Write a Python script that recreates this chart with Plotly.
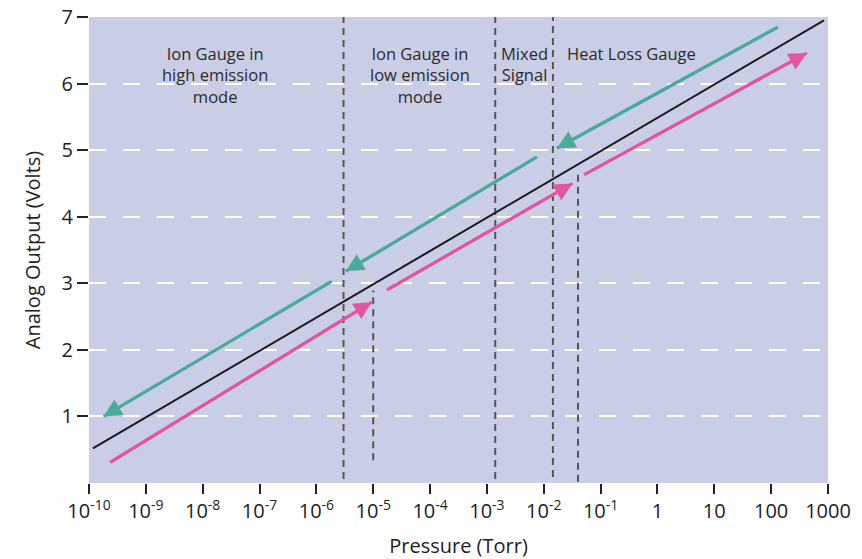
import plotly.graph_objects as go
import numpy as np

# ---- data ----
x_tick_vals = [1e-10, 1e-9, 1e-8, 1e-7, 1e-6, 1e-5, 1e-4, 1e-3, 1e-2, 1e-1, 1, 10, 100, 1000]
x_tick_text = ["10<sup>-10</sup>", "10<sup>-9</sup>", "10<sup>-8</sup>", "10<sup>-7</sup>",
               "10<sup>-6</sup>", "10<sup>-5</sup>", "10<sup>-4</sup>", "10<sup>-3</sup>",
               "10<sup>-2</sup>", "10<sup>-1</sup>", "1", "10", "100", "1000"]
y_tick_vals = [1, 2, 3, 4, 5, 6, 7]

# reference (black) line
ref_x = [1.17e-10, 850]
ref_y = [0.52, 6.95]

# decreasing-pressure (teal) segments: start -> arrow tip
teal_x = [[132, 0.017], [0.0076, 3.3e-6], [1.86e-6, 1.8e-10]]
teal_y = [[6.85, 5.03], [4.90, 3.18], [3.03, 1.00]]

# increasing-pressure (pink) segments: start -> arrow tip
pink_x = [[2.35e-10, 9.5e-6], [1.74e-5, 0.032], [0.051, 427]]
pink_y = [[0.31, 2.72], [2.90, 4.50], [4.63, 6.46]]

# region boundaries (vertical dashed lines)
vline_x = [3.0e-6, 1.0e-5, 1.4e-3, 0.0145, 0.040]
vline_y0 = [0.06, 0.34, 0.06, 0.09, 0.02]
vline_y1 = [7.0, 2.89, 7.0, 7.0, 4.69]

region_labels = ["Ion Gauge in<br>high emission<br>mode", "Ion Gauge in<br>low emission<br>mode",
                 "Mixed<br>Signal", "Heat Loss Gauge"]
region_label_x = [1.66e-8, 6.6e-5, 4.5e-3, 0.355]

TEAL = "#4aab9b"
PINK = "#e0579f"
BG = "#c9cee6"
FONT = "Open Sans"

fig = go.Figure()

for vx, y0, y1 in zip(vline_x, vline_y0, vline_y1):
    fig.add_trace(go.Scatter(x=[vx, vx], y=[y0, y1], mode="lines",
                             line=dict(color="#555555", width=2, dash="7px,5px"),
                             hoverinfo="skip", showlegend=False))

fig.add_trace(go.Scatter(x=ref_x, y=ref_y, mode="lines",
                         line=dict(color="#1a1a1a", width=2), showlegend=False))

for xs, ys in zip(teal_x, teal_y):
    fig.add_trace(go.Scatter(x=xs, y=ys, mode="lines",
                             line=dict(color=TEAL, width=3), showlegend=False))
for xs, ys in zip(pink_x, pink_y):
    fig.add_trace(go.Scatter(x=xs, y=ys, mode="lines",
                             line=dict(color=PINK, width=3), showlegend=False))

annotations = []
for xs, ys, col in [(a, b, TEAL) for a, b in zip(teal_x, teal_y)] + [(a, b, PINK) for a, b in zip(pink_x, pink_y)]:
    annotations.append(dict(x=np.log10(xs[1]), y=ys[1], ax=np.log10(xs[0]), ay=ys[0],
                            xref="x", yref="y", axref="x", ayref="y", text="",
                            showarrow=True, arrowhead=2, arrowsize=1.2, arrowwidth=3,
                            arrowcolor=col))

for txt, lx in zip(region_labels, region_label_x):
    annotations.append(dict(x=np.log10(lx), y=6.65, xref="x", yref="y", text=txt,
                            showarrow=False, yanchor="top", xanchor="center",
                            font=dict(family=FONT, size=16.5, color="#2b2b2b")))

# page body has an 8px margin: plot area placed so it lands at x 89..828, y 17..483 on screen
fig.update_layout(
    width=862, height=559,
    margin=dict(l=81, r=42, t=9, b=84),
    paper_bgcolor="white", plot_bgcolor=BG,
    font=dict(family=FONT, size=20, color="#222222"),
    annotations=annotations,
    showlegend=False,
)
fig.update_xaxes(type="log", range=[-10, 3], tickvals=x_tick_vals, ticktext=x_tick_text,
                 ticks="outside", ticklen=10, tickwidth=1.5, tickcolor="#222222",
                 showgrid=False, zeroline=False, showline=False, automargin=False,
                 ticklabeloverflow="allow",
                 tickfont=dict(size=20), title=dict(text="Pressure (Torr)", font=dict(size=20)))
fig.update_yaxes(range=[0, 7], tickvals=y_tick_vals,
                 ticks="outside", ticklen=11, tickwidth=1.5, tickcolor="#222222",
                 showgrid=True, gridcolor="white", gridwidth=1.5, griddash="17px,17px",
                 zeroline=False, showline=False, automargin=False,
                 ticklabeloverflow="allow",
                 tickfont=dict(size=20), title=dict(text="Analog Output (Volts)", font=dict(size=20)))

fig.write_html("out.html")
